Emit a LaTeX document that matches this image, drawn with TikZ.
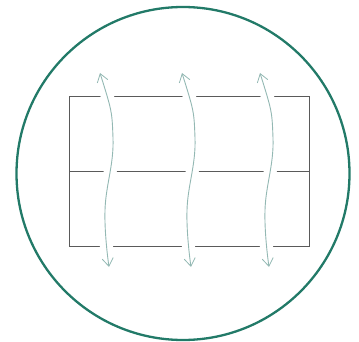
\documentclass[tikz,border=0pt]{standalone}
\usetikzlibrary{arrows.meta}
\definecolor{ringc}{HTML}{227A68}
\definecolor{arrc}{HTML}{93B8B3}
\definecolor{boxc}{HTML}{5A5A5A}
\tikzset{
  ring/.style={draw=ringc, line width=2.3pt},
  boxline/.style={draw=boxc, line width=1pt},
  halo/.style={draw=white, line width=13pt, shorten >=14pt, shorten <=14pt},
  wave/.style={draw=arrc, line width=0.9pt, {Straight Barb[length=8pt,width=11pt,line width=0.8pt]}-{Straight Barb[length=8pt,width=11pt,line width=0.8pt]}},
}
\begin{document}
\begin{tikzpicture}[x=1pt,y=-1pt]
\useasboundingbox (0,0) rectangle (359,342);
\draw[ring] (183,173.5) circle (166.5);
\draw[boxline] (69,97) rectangle (309,246);
\draw[boxline] (69,172) -- (309,172);
\foreach \dx in {0,82,160}{
  \draw[halo] plot[smooth, tension=0.7] coordinates {(100+\dx,73) (113+\dx,138) (105+\dx,210) (109+\dx,267)};
  \draw[wave] plot[smooth, tension=0.7] coordinates {(100+\dx,73) (113+\dx,138) (105+\dx,210) (109+\dx,267)};
}
\end{tikzpicture}
\end{document}
